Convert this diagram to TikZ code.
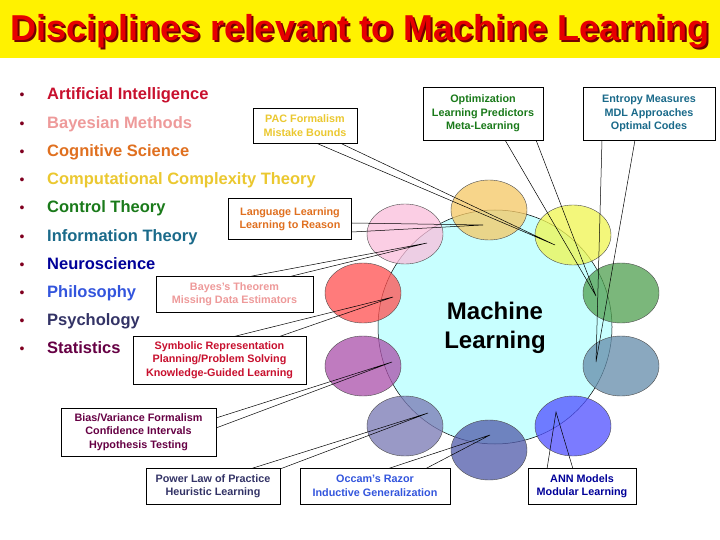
\documentclass[tikz,border=0pt]{standalone}
\usepackage{fontspec}
\setmainfont{Liberation Sans}
\usetikzlibrary{shapes.geometric}
\begin{document}
\begin{tikzpicture}[x=1pt,y=-1pt,
  item/.style={anchor=base west,inner sep=0pt,font=\fontsize{16.5}{18}\selectfont\bfseries},
  bul/.style={anchor=base,font=\fontsize{14}{16}\selectfont,text=bulc},
  cbox/.style={draw=black,fill=white,line width=0.6pt,align=center,font=\fontsize{10.8}{13.5}\selectfont\bfseries,inner sep=1pt},
  blob/.style={draw=black!70,line width=0.4pt,ellipse,minimum width=76pt,minimum height=60pt,fill opacity=0.75,inner sep=0pt},
  wedge/.style={line width=0.5pt}]
\definecolor{bulc}{HTML}{800020}
\definecolor{cAI}{HTML}{C8102E}\definecolor{cBay}{HTML}{EE9A9A}\definecolor{cCog}{HTML}{E07020}
\definecolor{cComp}{HTML}{EBC830}\definecolor{cCon}{HTML}{1A7A1A}\definecolor{cInf}{HTML}{1A6A8A}
\definecolor{cNeu}{HTML}{000099}\definecolor{cPhi}{HTML}{3355DD}\definecolor{cPsy}{HTML}{333366}
\definecolor{cSta}{HTML}{660044}
\useasboundingbox (0,0) rectangle (720,540);
\fill[white] (0,0) rectangle (720,540);
\fill[yellow] (0,0) rectangle (720,58);
\node[text=red!45!black] at (362,33) {\fontsize{36}{40}\selectfont\bfseries Disciplines relevant to Machine Learning};
\node[text={rgb,255:red,230;green,0;blue,0}] (title) at (360,31) {\fontsize{36}{40}\selectfont\bfseries Disciplines relevant to Machine Learning};
% list
\foreach \t/\c [count=\i from 0] in {Artificial Intelligence/cAI,Bayesian Methods/cBay,Cognitive Science/cCog,Computational Complexity Theory/cComp,Control Theory/cCon,Information Theory/cInf,Neuroscience/cNeu,Philosophy/cPhi,Psychology/cPsy,Statistics/cSta}{
  \node[bul] (b\i) at (22,{100+28.2*\i}) {•};
  \node[item,text=\c] (l\i) at (47,{100+28.2*\i}) {\t};
}
% central circle
\node[draw=black,line width=0.5pt,fill={rgb,255:red,200;green,255;blue,255},circle,minimum size=234pt] (ml) at (495,327) {};
\node[align=center,font=\fontsize{24}{29}\selectfont\bfseries] (mlt) at (495,328) {Machine\\Learning};
% ellipses
\node[blob,fill={rgb,255:red,245;green,200;blue,100}] (eCog) at (489,210) {};
\node[blob,fill={rgb,255:red,240;green,245;blue,80}] (eComp) at (573,235) {};
\node[blob,fill={rgb,255:red,80;green,160;blue,80}] (eCon) at (621,293) {};
\node[blob,fill={rgb,255:red,100;green,140;blue,170}] (eInf) at (621,366) {};
\node[blob,fill={rgb,255:red,80;green,80;blue,255}] (eNeu) at (573,426) {};
\node[blob,fill={rgb,255:red,80;green,90;blue,170}] (ePhi) at (489,450) {};
\node[blob,fill={rgb,255:red,120;green,120;blue,180}] (ePsy) at (405,426) {};
\node[blob,fill={rgb,255:red,170;green,80;blue,170}] (eSta) at (363,366) {};
\node[blob,fill={rgb,255:red,255;green,80;blue,80}] (eAI) at (363,293) {};
\node[blob,fill={rgb,255:red,250;green,190;blue,220}] (eBay) at (405,234) {};
% tip points
\coordinate (tComp) at (555,245); \coordinate (tCog) at (483,225);
\coordinate (tBay) at (427,243); \coordinate (tAI) at (393,297);
\coordinate (tSta) at (392,362); \coordinate (tPsy) at (428,413);
\coordinate (tPhi) at (490,435); \coordinate (tNeu) at (556,412);
\coordinate (tInf) at (596,362); \coordinate (tCon) at (596,296);
% wedges
\draw[wedge] (316,143) -- (tComp) -- (340,143);
\draw[wedge] (505,140) -- (tCon) -- (536,140);
\draw[wedge] (602,140) -- (tInf) -- (635,140);
\draw[wedge] (352,223) -- (tCog) -- (352,232);
\draw[wedge] (247,277) -- (tBay) -- (288,277);
\draw[wedge] (232,337) -- (tAI) -- (278,337);
\draw[wedge] (216,418) -- (tSta) -- (216,428);
\draw[wedge] (250,469) -- (tPsy) -- (280,469);
\draw[wedge] (387,469) -- (tPhi) -- (425,469);
\draw[wedge] (547,469) -- (tNeu) -- (573,469);
% boxes
\node[cbox,text=cComp,minimum width=104pt,minimum height=35pt] (bPAC) at (305,125.5) {PAC Formalism\\Mistake Bounds};
\node[cbox,text=cCon,minimum width=120pt,minimum height=53pt] (bOpt) at (483,113.5) {Optimization\\Learning Predictors\\Meta-Learning};
\node[cbox,text=cInf,minimum width=132pt,minimum height=53pt] (bEnt) at (649,113.5) {Entropy Measures\\MDL Approaches\\Optimal Codes};
\node[cbox,text=cCog,minimum width=123pt,minimum height=41pt] (bLang) at (290,219) {Language Learning\\Learning to Reason};
\node[cbox,text=cBay,minimum width=157pt,minimum height=36pt] (bBay) at (234.5,294) {Bayes's Theorem\\Missing Data Estimators};
\node[cbox,text=cAI,minimum width=173pt,minimum height=48pt] (bSym) at (219.5,360) {Symbolic Representation\\Planning/Problem Solving\\Knowledge-Guided Learning};
\node[cbox,text=cSta,minimum width=155pt,minimum height=48pt] (bBias) at (138.5,432) {Bias/Variance Formalism\\Confidence Intervals\\Hypothesis Testing};
\node[cbox,text=cPsy,minimum width=134pt,minimum height=36pt] (bPow) at (213,486) {Power Law of Practice\\Heuristic Learning};
\node[cbox,text=cPhi,minimum width=150pt,minimum height=36pt] (bOcc) at (375,486) {Occam's Razor\\Inductive Generalization};
\node[cbox,text=cNeu,minimum width=108pt,minimum height=36pt] (bANN) at (582,486) {ANN Models\\Modular Learning};
\end{tikzpicture}
\end{document}
